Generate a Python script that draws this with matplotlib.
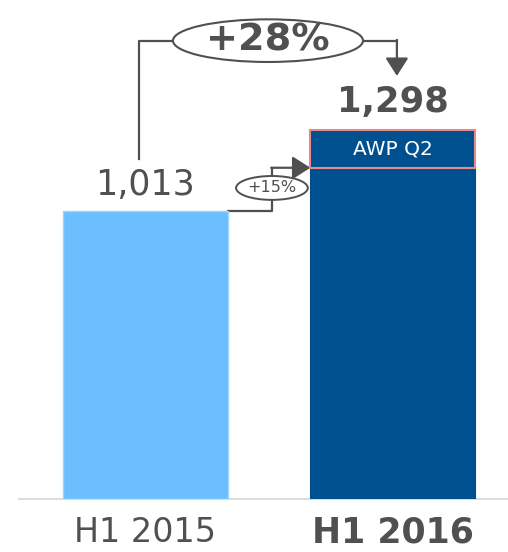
import matplotlib
matplotlib.use("Agg")
import matplotlib.pyplot as plt
from matplotlib.patches import Ellipse, FancyArrowPatch

categories = ["H1 2015", "H1 2016"]
totals = [1013, 1298]
base_2016 = 1165          # H1 2016 before AWP Q2
awp_q2 = totals[1] - base_2016
growth_total = "+28%"
growth_organic = "+15%"

light_blue = "#6CBFFF"
dark_blue = "#00508F"
ink = "#505050"

fig = plt.figure(figsize=(5.08, 5.52), dpi=100)
ax = fig.add_axes([0, 53 / 552, 1, 499 / 552])
ax.set_xlim(-0.588, 1.465)
ax.set_ylim(0, 1755)
ax.axis("off")

x = [0, 1]
w = 0.667
ax.bar(x[0], totals[0], width=w, color=light_blue, edgecolor="#9fd4ff", linewidth=1, zorder=2)
ax.bar(x[1], base_2016, width=w, color=dark_blue, edgecolor=dark_blue, linewidth=0.8, zorder=2)
ax.bar(x[1], awp_q2, bottom=base_2016, width=w, color=dark_blue, edgecolor="#E58A8A",
       linewidth=1.5, zorder=3)
ax.text(x[1], base_2016 + awp_q2 / 2, "AWP Q2", color="white", fontsize=14.5,
        ha="center", va="center", zorder=4)

# baseline
ax.plot([-0.51, 1.465], [0, 0], color="#dddddd", lw=1.5, zorder=1, clip_on=False)

# value labels
ax.text(x[0], totals[0] + 32, f"{totals[0]:,}", fontsize=25, color=ink, ha="center", va="bottom")
ax.text(x[1], totals[1] + 40, f"{totals[1]:,}", fontsize=25.5, fontweight="bold", color=ink,
        ha="center", va="bottom")

# category labels
for xi, lab, wt, fs in zip(x, categories, ["normal", "bold"], [24, 25]):
    ax.text(xi, -118, lab, fontsize=fs, fontweight=wt, color=ink, ha="center", va="center")

arrow = "-|>,head_length=0.55,head_width=0.35"

# overall growth connector
top_y = 1612
left_x = -0.026
ax.plot([left_x, left_x, 0.2], [1196, top_y, top_y], color=ink, lw=1.6, zorder=1)
ax.plot([0.8, 1.016], [top_y, top_y], color=ink, lw=1.6, zorder=1)
ax.add_patch(FancyArrowPatch((1.016, top_y + 3), (1.016, 1488), arrowstyle=arrow,
                             mutation_scale=20, color=ink, lw=1.6, shrinkA=0, shrinkB=0))
ax.add_patch(Ellipse((0.495, top_y), 0.768, 150, facecolor="white", edgecolor=ink, lw=1.5, zorder=3))
ax.text(0.495, top_y, growth_total, fontsize=27.5, fontweight="bold", color=ink,
        ha="center", va="center", zorder=4)

# organic growth connector
mid_x = 0.511
ax.plot([w / 2, mid_x, mid_x], [totals[0], totals[0], base_2016], color=ink, lw=1.6, zorder=1)
ax.add_patch(FancyArrowPatch((mid_x - 0.003, base_2016), (1 - w / 2, base_2016),
                             arrowstyle=arrow, mutation_scale=20,
                             color=ink, lw=1.6, shrinkA=0, shrinkB=0, zorder=2))
ax.add_patch(Ellipse((mid_x, 1094), 0.29, 84, facecolor="white",
                     edgecolor=ink, lw=1.4, zorder=3))
ax.text(mid_x, 1094, growth_organic, fontsize=11.5, color=ink,
        ha="center", va="center", zorder=4)

fig.savefig("out.png", dpi=100)
